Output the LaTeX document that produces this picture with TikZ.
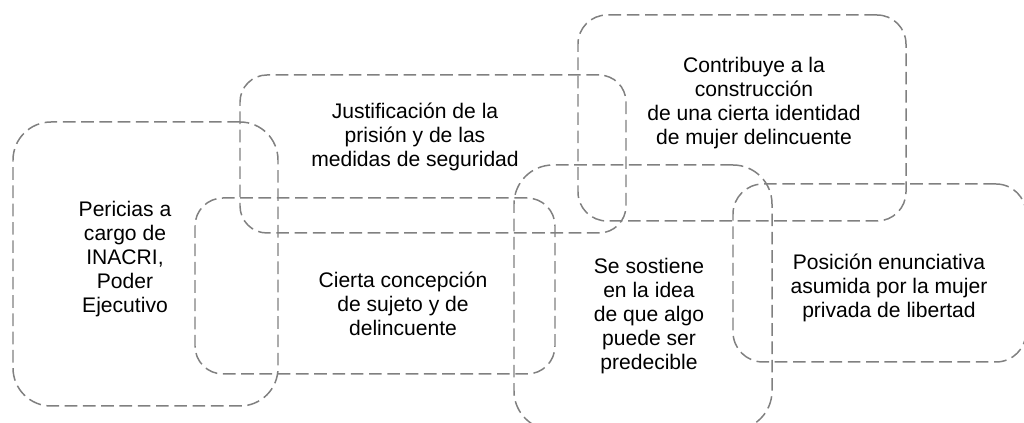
\documentclass[tikz,border=0pt]{standalone}
\usepackage{fontspec}
\setmainfont{Liberation Sans}
\begin{document}
\begin{tikzpicture}[
    caja/.style={draw=gray, line width=0.85pt, dash pattern=on 7.2pt off 3.2pt,
        inner sep=0pt, anchor=center},
    texto/.style={align=center, inner sep=0pt, font=\fontsize{12}{13.7}\selectfont}
  ]
  \useasboundingbox (0,0) rectangle (20.48,8.46);
  % cajas
  \node[caja, rounded corners=0.76cm, minimum width=5.30cm, minimum height=5.68cm] (cajaPericias) at (2.91,3.18) {};
  \node[caja, rounded corners=0.54cm, minimum width=7.72cm, minimum height=3.16cm] (cajaJustif) at (8.66,5.38) {};
  \node[caja, rounded corners=0.56cm, minimum width=7.20cm, minimum height=3.52cm] (cajaConcep) at (7.50,2.74) {};
  \node[caja, rounded corners=0.58cm, minimum width=6.56cm, minimum height=4.12cm] (cajaContrib) at (14.84,6.10) {};
  \node[caja, rounded corners=0.78cm, minimum width=5.16cm, minimum height=5.30cm] (cajaSostiene) at (12.86,2.51) {};
  \node[caja, rounded corners=0.60cm, minimum width=5.86cm, minimum height=3.56cm] (cajaPosicion) at (17.59,3.00) {};
  % textos
  \node[texto] (txtPericias) at (2.50,3.28) {Pericias a\\cargo de\\INACRI,\\Poder\\Ejecutivo};
  \node[texto] (txtJustif) at (8.30,5.72) {Justificación de la\\prisión y de las\\medidas de seguridad};
  \node[texto] (txtConcep) at (8.06,2.38) {Cierta concepción\\de sujeto y de\\delincuente};
  \node[texto] (txtContrib) at (15.08,6.40) {Contribuye a la\\construcción\\de una cierta identidad\\de mujer delincuente};
  \node[texto] (txtSostiene) at (12.98,2.14) {Se sostiene\\en la idea\\de que algo\\puede ser\\predecible};
  \node[texto] (txtPosicion) at (17.78,2.70) {Posición enunciativa\\asumida por la mujer\\privada de libertad};
\end{tikzpicture}
\end{document}
